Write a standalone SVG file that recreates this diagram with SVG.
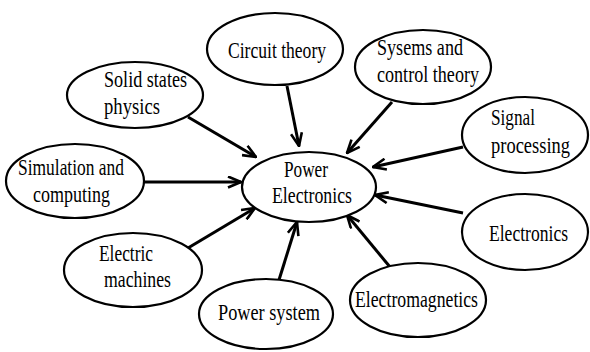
<svg xmlns="http://www.w3.org/2000/svg" width="590" height="352" viewBox="0 0 590 352">
<style>
.n ellipse{fill:#fff;stroke:#000;stroke-width:2.2}
.n text{font-family:"Liberation Serif","Times New Roman",serif;font-size:24px;fill:#000}
.c line{stroke:#000;stroke-width:3;marker-end:url(#ah)}
</style>
<defs>
<marker id="ah" markerUnits="userSpaceOnUse" viewBox="0 0 15 13" refX="14" refY="6.5" markerWidth="15" markerHeight="13" orient="auto">
<path d="M1,1 L14,6.5 L1,12" fill="none" stroke="#000" stroke-width="2.6"/>
</marker>
</defs>
<rect width="590" height="352" fill="#fff"/>
<g class="c">
<line x1="287" y1="86" x2="299" y2="146"/>
<line x1="188" y1="117" x2="256" y2="157"/>
<line x1="143" y1="182" x2="241" y2="182"/>
<line x1="188" y1="248" x2="255" y2="208"/>
<line x1="279" y1="280" x2="297" y2="222"/>
<line x1="390" y1="267" x2="347" y2="215"/>
<line x1="463" y1="213" x2="375" y2="195"/>
<line x1="463" y1="147" x2="373" y2="167"/>
<line x1="392" y1="102" x2="347" y2="153"/>
</g>
<g class="n" id="circuit"><ellipse cx="275" cy="49" rx="68" ry="36"/><text x="228" y="58" textLength="98" lengthAdjust="spacingAndGlyphs">Circuit theory</text></g>
<g class="n" id="solid"><ellipse cx="135" cy="95" rx="68" ry="33"/><text x="104" y="87" textLength="83" lengthAdjust="spacingAndGlyphs">Solid states</text><text x="104" y="114" textLength="56" lengthAdjust="spacingAndGlyphs">physics</text></g>
<g class="n" id="simulation"><ellipse cx="75" cy="181" rx="69" ry="37"/><text x="18" y="175" textLength="106" lengthAdjust="spacingAndGlyphs">Simulation and</text><text x="33" y="202" textLength="77" lengthAdjust="spacingAndGlyphs">computing</text></g>
<g class="n" id="machines"><ellipse cx="133" cy="270" rx="69" ry="37"/><text x="99" y="261" textLength="54" lengthAdjust="spacingAndGlyphs">Electric</text><text x="104" y="287" textLength="67" lengthAdjust="spacingAndGlyphs">machines</text></g>
<g class="n" id="powersys"><ellipse cx="266" cy="314" rx="67" ry="35"/><text x="218" y="320" textLength="102" lengthAdjust="spacingAndGlyphs">Power system</text></g>
<g class="n" id="electromag"><ellipse cx="418" cy="300" rx="68" ry="37"/><text x="355" y="307" textLength="123" lengthAdjust="spacingAndGlyphs">Electromagnetics</text></g>
<g class="n" id="electronics"><ellipse cx="525" cy="232" rx="63" ry="38"/><text transform="matrix(0.74 0 0 1 489 0)" x="0" y="241" textLength="106.8" lengthAdjust="spacingAndGlyphs">Electronics</text></g>
<g class="n" id="signal"><ellipse cx="525" cy="135" rx="63" ry="38"/><text transform="matrix(0.74 0 0 1 491 0)" x="0" y="125" textLength="59.5" lengthAdjust="spacingAndGlyphs">Signal</text><text transform="matrix(0.74 0 0 1 491 0)" x="0" y="153" textLength="106.8" lengthAdjust="spacingAndGlyphs">processing</text></g>
<g class="n" id="systems"><ellipse cx="423" cy="67" rx="68" ry="37"/><text x="377" y="55" textLength="86" lengthAdjust="spacingAndGlyphs">Sysems and</text><text x="377" y="82" textLength="102" lengthAdjust="spacingAndGlyphs">control theory</text></g>
<g class="n" id="pe"><ellipse cx="309" cy="187" rx="67" ry="35"/><text x="284" y="177" textLength="44" lengthAdjust="spacingAndGlyphs">Power</text><text x="272" y="203" textLength="80" lengthAdjust="spacingAndGlyphs">Electronics</text></g>
</svg>
